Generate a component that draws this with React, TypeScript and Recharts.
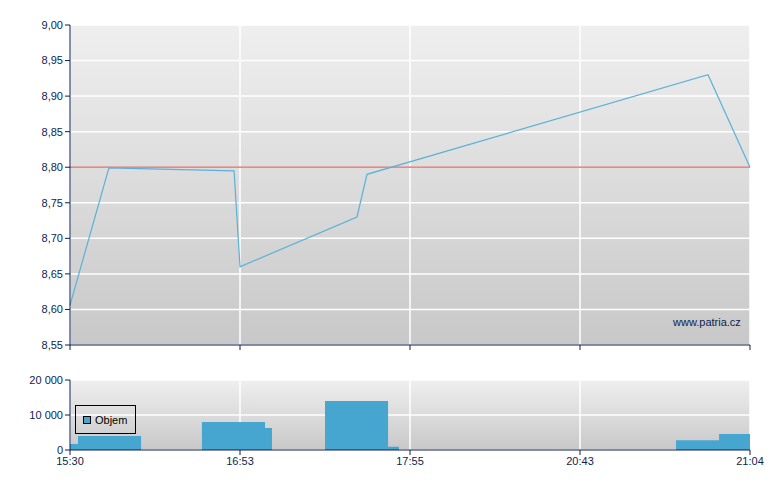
import {
  ComposedChart,
  LineChart,
  Line,
  Area,
  XAxis,
  YAxis,
  CartesianGrid,
  ReferenceLine,
} from "recharts";

// x positions are trading-time slots: tick 0..4 = 15:30, 16:53, 17:55, 20:43, 21:04
const timeTicks = [0, 1, 2, 3, 4];
const timeLabels = ["15:30", "16:53", "17:55", "20:43", "21:04"];

const priceT = [0, 0.229, 0.965, 1.0, 1.688, 1.747, 3.753, 4];
const priceV = [8.606, 8.799, 8.795, 8.66, 8.73, 8.79, 8.93, 8.8];
const priceTicks = [8.55, 8.6, 8.65, 8.7, 8.75, 8.8, 8.85, 8.9, 8.95, 9.0];
const prevClose = 8.8;

const volT = [0, 0.047, 0.418, 0.776, 1.147, 1.188, 1.5, 1.871, 1.935, 3.565, 3.818, 4];
const volV = [1700, 4000, 0, 8000, 6300, 0, 14000, 900, 0, 2800, 4600, 4600];
const volTicks = [0, 10000, 20000];

const priceData = priceT.map((t, i) => ({ t, price: priceV[i] }));
const volData = volT.map((t, i) => ({ t, vol: volV[i] }));

const navy = "#0b1f4f";
const font = "'Liberation Sans', Arial, sans-serif";
const tickStyle = { fill: navy, fontSize: 11, fontFamily: font };

const fmtPrice = (v: number) => v.toFixed(2).replace(".", ",");
const fmtVol = (v: number) => String(v).replace(/\B(?=(\d{3})+(?!\d))/g, " ");

function VolLegend() {
  return (
    <div
      style={{
        position: "absolute",
        left: 75,
        top: 405,
        border: "1px solid #000",
        width: 61,
        height: 29,
        display: "flex",
        alignItems: "center",
        paddingLeft: 7,
        boxSizing: "border-box",
        fontFamily: font,
        fontSize: 11,
        color: "#000",
      }}
    >
      <span
        style={{
          width: 6,
          height: 6,
          background: "#46a6cf",
          border: "1px solid #000",
          marginRight: 4,
        }}
      />
      Objem
    </div>
  );
}

export default function App() {
  return (
    <div style={{ position: "absolute", left: 0, top: 0, width: 780, height: 490, background: "#fff" }}>
      <div style={{ position: "absolute", left: 0, top: 0 }}>
        <LineChart width={780} height={360} data={priceData} margin={{ top: 25, right: 30, left: 0, bottom: 0 }}>
          <defs>
            <linearGradient id="bgMain" x1="0" y1="0" x2="0" y2="1">
              <stop offset="0%" stopColor="#efefef" />
              <stop offset="100%" stopColor="#c8c8c8" />
            </linearGradient>
          </defs>
          <CartesianGrid stroke="#ffffff" strokeWidth={1.5} fill="url(#bgMain)" fillOpacity={1} />
          <XAxis
            type="number"
            dataKey="t"
            domain={[0, 4]}
            ticks={timeTicks}
            tickFormatter={() => ""}
            height={15}
            tickSize={5}
            stroke={navy}
            tick={tickStyle}
          />
          <YAxis
            type="number"
            domain={[8.55, 9.0]}
            ticks={priceTicks}
            tickFormatter={fmtPrice}
            width={70}
            tickSize={5}
            stroke={navy}
            tick={tickStyle}
          />
          <ReferenceLine y={prevClose} stroke="#d9645f" strokeWidth={1.2} />
          <Line
            type="linear"
            dataKey="price"
            stroke="#5ab1d8"
            strokeWidth={1.2}
            dot={false}
            isAnimationActive={false}
          />
        </LineChart>
      </div>
      <div
        style={{
          position: "absolute",
          left: 673,
          top: 316,
          fontFamily: font,
          fontSize: 11,
          color: navy,
        }}
      >
        www.patria.cz
      </div>
      <div style={{ position: "absolute", left: 0, top: 360 }}>
        <ComposedChart width={780} height={130} data={volData} margin={{ top: 20, right: 30, left: 0, bottom: 0 }}>
          <defs>
            <linearGradient id="bgVol" x1="0" y1="0" x2="0" y2="1">
              <stop offset="0%" stopColor="#efefef" />
              <stop offset="100%" stopColor="#c8c8c8" />
            </linearGradient>
          </defs>
          <CartesianGrid stroke="#ffffff" strokeWidth={1.5} fill="url(#bgVol)" fillOpacity={1} />
          <XAxis
            type="number"
            dataKey="t"
            domain={[0, 4]}
            ticks={timeTicks}
            tickFormatter={(v: number) => timeLabels[v]}
            height={40}
            tickSize={5}
            stroke={navy}
            tick={tickStyle}
          />
          <YAxis
            type="number"
            domain={[0, 20000]}
            ticks={volTicks}
            tickFormatter={fmtVol}
            width={70}
            tickSize={5}
            stroke={navy}
            tick={tickStyle}
          />
          <Area
            type="stepAfter"
            dataKey="vol"
            fill="#46a6cf"
            fillOpacity={1}
            stroke="none"
            isAnimationActive={false}
          />
        </ComposedChart>
      </div>
      <VolLegend />
    </div>
  );
}
